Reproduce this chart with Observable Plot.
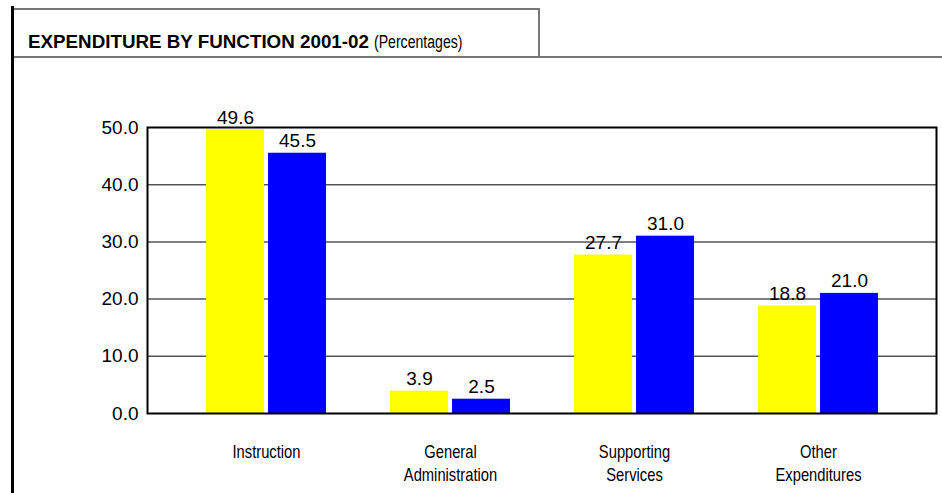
<!DOCTYPE html>
<html>
<head>
<meta charset="utf-8">
<script src="https://cdn.jsdelivr.net/npm/d3@7"></script>
<script src="https://cdn.jsdelivr.net/npm/@observablehq/plot@0.6"></script>
<style>
  html, body { margin: 0; padding: 0; background: #fff; }
  body { width: 942px; height: 493px; position: relative; overflow: hidden; font-family: "Liberation Sans", Arial, sans-serif; }
  #leftbar { position: absolute; left: 11px; top: 6px; width: 3px; bottom: 0; background: #000; z-index: 5; }
  #titlebox { position: absolute; left: 14px; top: 8px; width: 524px; height: 48px; border-top: 2px solid #777; border-right: 2px solid #777; }
  #hline { position: absolute; left: 14px; right: 0; top: 56px; height: 2px; background: #777; }
  #title { position: absolute; left: 28px; top: 33px; font-size: 18.8px; line-height: 18px; color: #000; white-space: nowrap; }
  #title b { font-weight: bold; }
  #title span { display: inline-block; font-size: 18.8px; transform: scaleX(0.75); transform-origin: left center; }
  #chart { position: absolute; left: 0; top: 70px; }
</style>
</head>
<body>
<div id="leftbar"></div>
<div id="titlebox"></div>
<div id="hline"></div>
<div id="title"><b>EXPENDITURE BY FUNCTION 2001-02</b> <span>(Percentages)</span></div>
<div id="chart"></div>
<script>
// ---- data ----
const categories = ["Instruction", "General Administration", "Supporting Services", "Other Expenditures"];
const categoryLabels = ["Instruction", "General\nAdministration", "Supporting\nServices", "Other\nExpenditures"];
const yellowSeries = [49.6, 3.9, 27.7, 18.8];
const blueSeries = [45.5, 2.5, 31.0, 21.0];
const yTicks = [0, 10, 20, 30, 40, 50];
const gridValues = [10, 20, 30, 40];

const yellowData = categories.map((c, i) => ({category: c, value: yellowSeries[i]}));
const blueData = categories.map((c, i) => ({category: c, value: blueSeries[i]}));
const labelOf = new Map(categories.map((c, i) => [c, categoryLabels[i]]));
const fmt = d3.format(".1f");

const chart = Plot.plot({
  width: 942,
  height: 423,
  marginLeft: 147,
  marginRight: 6,
  marginTop: 57,
  marginBottom: 80,
  style: {fontFamily: "'Liberation Sans', Arial, sans-serif", fontSize: "19px", color: "#000", background: "transparent"},
  x: {domain: categories, paddingInner: 0.349, paddingOuter: 0.315, align: 0.5, label: null},
  y: {domain: [0, 50], label: null},
  marks: [
    Plot.ruleY(gridValues, {stroke: "#555", strokeWidth: 1.5}),
    Plot.barY(yellowData, {x: "category", y: "value", fill: "#ffff00", insetRight: 62}),
    Plot.barY(blueData, {x: "category", y: "value", fill: "#0000ff", insetLeft: 62}),
    Plot.text(yellowData, {x: "category", y: "value", text: d => fmt(d.value), dx: -31, dy: -6, lineAnchor: "bottom", fontSize: 19, fill: "#000"}),
    Plot.text(blueData, {x: "category", y: "value", text: d => fmt(d.value), dx: 31, dy: -6, lineAnchor: "bottom", fontSize: 19, fill: "#000"}),
    Plot.frame({stroke: "#000", strokeWidth: 2}),
    Plot.axisY({ticks: yTicks, tickFormat: fmt, tickSize: 0, tickPadding: 9, fontSize: 19, label: null}),
    Plot.axisX({tickSize: 0, tickPadding: 28, tickFormat: c => labelOf.get(c), lineHeight: 1.28, fontSize: 18, label: null})
  ]
});
// narrow the category labels horizontally (condensed face, as in the original)
d3.select(chart).selectAll('g[aria-label="x-axis tick label"] text')
  .attr("transform", function() { return (this.getAttribute("transform") || "") + " scale(0.82,1)"; });
document.getElementById("chart").appendChild(chart);
</script>
</body>
</html>
